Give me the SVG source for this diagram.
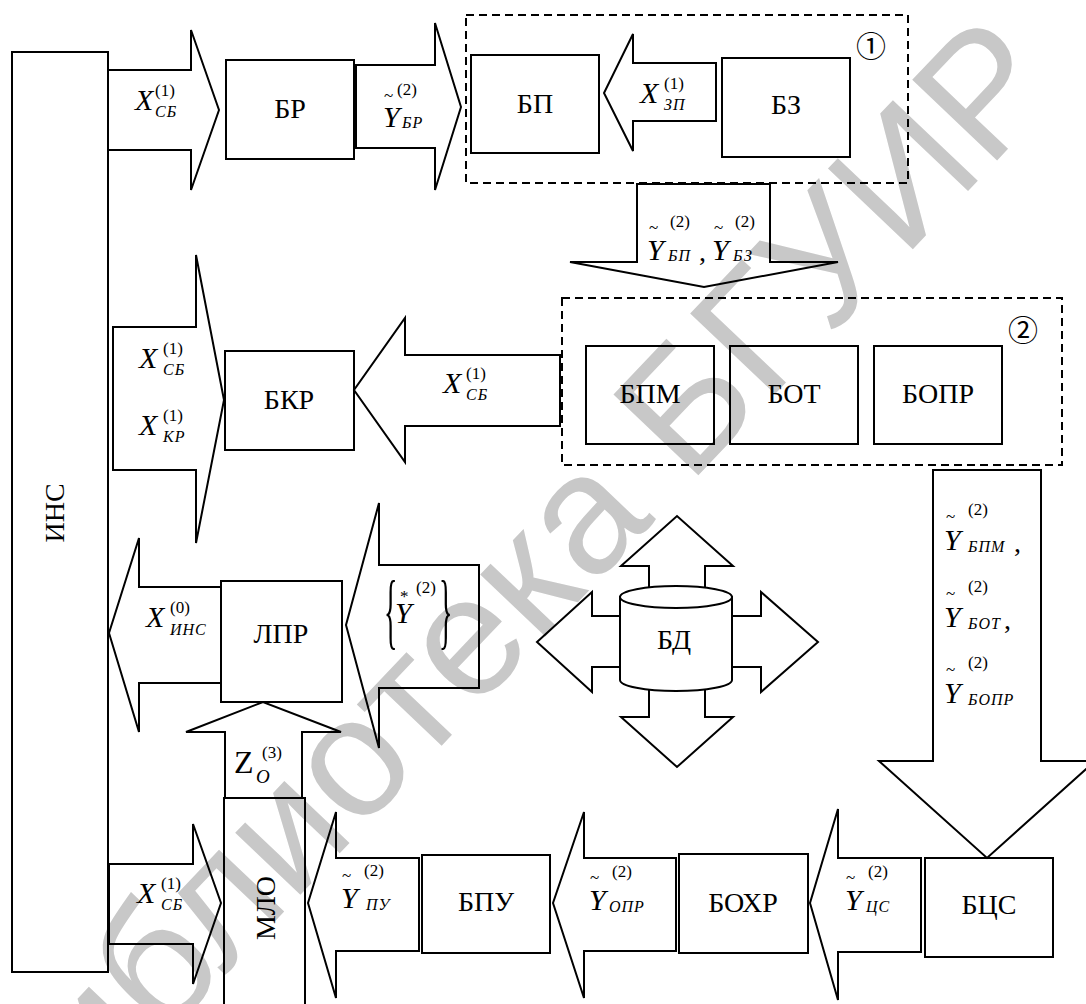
<svg xmlns="http://www.w3.org/2000/svg" width="1086" height="1004" viewBox="0 0 1086 1004" font-family="Liberation Serif, Times New Roman, DejaVu Serif, serif">
<style>
.wm{font-family:"Liberation Sans",Arial,sans-serif;font-size:170px;fill:#c8c8c8}
.b{fill:none;stroke:#000;stroke-width:2}
.w{fill:#fff;stroke:#000;stroke-width:2}
.d{fill:none;stroke:#000;stroke-width:2;stroke-dasharray:8 5}
.t,.v,.p,.s{fill:#000}
.t{font-size:28px}
.c{text-anchor:middle}
.v{font-size:30px;font-style:italic}
.p{font-size:17px}
.s{font-size:16px;font-style:italic;letter-spacing:1px}
.n{font-family:"Noto Sans CJK SC","DejaVu Sans",sans-serif;font-size:30px;fill:#000}
</style>
<text class="wm" transform="translate(20,1190) rotate(-46.5)">Библиотека БГУИР</text>

<g id="connectors">
  <polygon class="b" points="108,70 191,70 191,30 219,110 191,190 191,150 108,150"/>
  <polygon class="b" points="356,65 435,65 435,23 461,107 435,190 435,148 356,148"/>
  <polygon class="b" points="716,63 633,63 633,34 604,93 633,151 633,121 716,121"/>
  <polygon class="b" points="637,184 770,184 770,262 838,262 704,287 570,262 637,262"/>
  <polygon class="b" points="113,327 196,327 196,255 224,400 196,543 196,470 113,470"/>
  <polygon class="b" points="560,355 405,355 405,318 354,390 405,462 405,426 560,426"/>
  <polygon class="b" points="221,587 139,587 139,538 109,633 139,732 139,683 221,683"/>
  <polygon class="b" points="479,565 379,565 379,503 346,625 379,748 379,688 479,688"/>
  <polygon class="b" points="225,798 225,732 186,732 263,702 341,732 302,732 302,798"/>
  <polygon class="b" points="933,470 1041,470 1041,761 1095,761 987,858 879,761 933,761"/>
  <polygon class="b" points="109,864 193,864 193,824 221,903 193,984 193,944 109,944"/>
  <polygon class="b" points="419,858 336,858 336,812 308,903 336,998 336,951 419,951"/>
  <polygon class="b" points="676,858 584,858 584,812 553,903 584,998 584,951 676,951"/>
  <polygon class="b" points="921,858 838,858 838,809 810,903 838,1000 838,952 921,952"/>
  <polygon class="b" points="649,592 649,566 621,566 677,516 733,566 705,566 705,592"/>
  <polygon class="b" points="649,685 649,717 621,717 677,767 733,717 705,717 705,685"/>
  <polygon class="b" points="622,616 592,616 592,592 537,642 592,692 592,667 622,667"/>
  <polygon class="b" points="730,616 761,616 761,592 818,642 761,692 761,667 730,667"/>
</g>

<g id="group1">
  <rect class="d" x="466" y="15" width="442" height="168"/>
  <text class="n c" x="871" y="57">①</text>
</g>
<g id="group2">
  <rect class="d" x="562" y="298" width="500" height="167"/>
  <text class="n c" x="1023" y="341">②</text>
</g>

<g id="ins"><rect class="b" x="12" y="52" width="96" height="920"/><text class="t c" transform="translate(64,513) rotate(-90)">ИНС</text></g>
<g id="br"><rect class="b" x="226" y="60" width="128" height="99"/><text class="t c" x="290" y="118">БР</text></g>
<g id="bp"><rect class="b" x="471" y="55" width="128" height="98"/><text class="t c" x="535" y="113">БП</text></g>
<g id="bz"><rect class="b" x="722" y="58" width="128" height="99"/><text class="t c" x="786" y="114">БЗ</text></g>
<g id="bkr"><rect class="b" x="225" y="351" width="129" height="99"/><text class="t c" x="289" y="409">БКР</text></g>
<g id="bpm"><rect class="b" x="586" y="346" width="128" height="98"/><text class="t c" x="650" y="403">БПМ</text></g>
<g id="bot"><rect class="b" x="730" y="346" width="128" height="98"/><text class="t c" x="794" y="403">БОТ</text></g>
<g id="bopr"><rect class="b" x="874" y="346" width="128" height="98"/><text class="t c" x="938" y="403">БОПР</text></g>
<g id="lpr"><rect class="w" x="221" y="581" width="121" height="121"/><text class="t c" x="281" y="643">ЛПР</text></g>
<g id="bd">
  <path class="w" d="M620,597 L620,680 A56,11 0 0 0 732,680 L732,597 Z"/>
  <ellipse class="w" cx="676" cy="597" rx="56" ry="11"/>
  <text class="t c" x="674" y="649">БД</text>
</g>
<g id="mlo"><rect class="b" x="224" y="798" width="81" height="220"/><text class="t c" transform="translate(275,908) rotate(-90)">МЛО</text></g>
<g id="bpu"><rect class="b" x="422" y="855" width="128" height="98"/><text class="t c" x="486" y="911">БПУ</text></g>
<g id="bohr"><rect class="b" x="679" y="854" width="129" height="99"/><text class="t c" x="743" y="912">БОХР</text></g>
<g id="bcs"><rect class="b" x="925" y="858" width="128" height="99"/><text class="t c" x="989" y="914">БЦС</text></g>

<g id="labels">
  <text class="v" x="135" y="110">X</text><text class="p" x="155" y="96">(1)</text><text class="s" x="155" y="117">СБ</text>
  <text class="v" x="383" y="127">Y</text><text class="p" x="384" y="101">~</text><text class="p" x="397" y="95">(2)</text><text class="s" x="402" y="128">БР</text>
  <text class="v" x="640" y="103">X</text><text class="p" x="664" y="89">(1)</text><text class="s" x="664" y="110">ЗП</text>
  <text class="v" x="647" y="260">Y</text><text class="p" x="649" y="233">~</text><text class="p" x="670" y="227">(2)</text><text class="s" x="668" y="261">БП</text>
  <text class="t" x="699" y="261">,</text>
  <text class="v" x="712" y="260">Y</text><text class="p" x="714" y="233">~</text><text class="p" x="735" y="227">(2)</text><text class="s" x="733" y="261">БЗ</text>
  <text class="v" x="139" y="368">X</text><text class="p" x="163" y="354">(1)</text><text class="s" x="163" y="375">СБ</text>
  <text class="v" x="139" y="435">X</text><text class="p" x="163" y="421">(1)</text><text class="s" x="163" y="442">КР</text>
  <text class="v" x="443" y="393">X</text><text class="p" x="466" y="379">(1)</text><text class="s" x="466" y="400">СБ</text>
  <text class="v" x="944" y="550">Y</text><text class="p" x="946" y="522">~</text><text class="p" x="968" y="515">(2)</text><text class="s" x="968" y="552">БПМ</text><text class="t" x="1014" y="552">,</text>
  <text class="v" x="944" y="627">Y</text><text class="p" x="946" y="599">~</text><text class="p" x="968" y="592">(2)</text><text class="s" x="968" y="629">БОТ</text><text class="t" x="1004" y="629">,</text>
  <text class="v" x="944" y="703">Y</text><text class="p" x="946" y="675">~</text><text class="p" x="968" y="668">(2)</text><text class="s" x="968" y="705">БОПР</text>
  <text class="v" x="146" y="627">X</text><text class="p" x="170" y="613">(0)</text><text class="s" x="170" y="635">ИНС</text>
  <text class="t" transform="translate(384,639) scale(1,3)">{</text>
  <text class="t" transform="translate(439,639) scale(1,3)">}</text>
  <text class="v" x="395" y="623">Y</text><text class="p" x="400" y="602">*</text><text class="p" x="416" y="593">(2)</text>
  <text class="t" x="234" y="773" style="font-size:32px">Z</text><text class="p" x="262" y="758">(3)</text><text class="s" x="256" y="783" style="font-size:19px">O</text>
  <text class="v" x="137" y="903">X</text><text class="p" x="161" y="889">(1)</text><text class="s" x="161" y="910">СБ</text>
  <text class="v" x="341" y="908">Y</text><text class="p" x="342" y="881">~</text><text class="p" x="364" y="876">(2)</text><text class="s" x="366" y="910">ПУ</text>
  <text class="v" x="589" y="910">Y</text><text class="p" x="590" y="883">~</text><text class="p" x="612" y="877">(2)</text><text class="s" x="609" y="912">ОПР</text>
  <text class="v" x="845" y="910">Y</text><text class="p" x="846" y="883">~</text><text class="p" x="868" y="877">(2)</text><text class="s" x="866" y="912">ЦС</text>
</g>
</svg>
